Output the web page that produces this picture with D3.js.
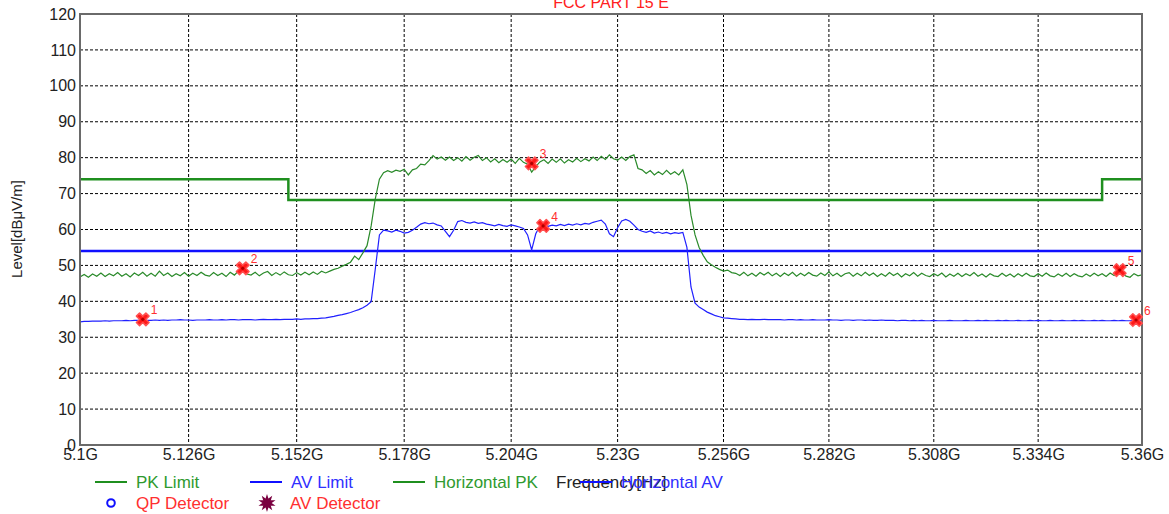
<!DOCTYPE html>
<html><head><meta charset="utf-8">
<script src="https://cdn.jsdelivr.net/npm/d3@7"></script>
<style>html,body{margin:0;padding:0;background:#fff;}svg{display:block;font-family:"Liberation Sans",Arial,sans-serif;}</style>
</head><body>
<svg id="c" width="1169" height="514"></svg>
<script>
// ---- data ----
const title = "FCC PART 15 E";
const xTickValues = [5100, 5126, 5152, 5178, 5204, 5230, 5256, 5282, 5308, 5334, 5360]; // MHz
const xTickLabels = ["5.1G","5.126G","5.152G","5.178G","5.204G","5.23G","5.256G","5.282G","5.308G","5.334G","5.36G"];
const yTickValues = [0,10,20,30,40,50,60,70,80,90,100,110,120];
const sweepStart = 5100, sweepStep = 1; // MHz
const horizontalPK = [
 46.8,47.5,46.7,47.6,47.0,47.9,46.9,47.7,47.1,48.0,
 47.0,47.7,46.8,47.9,47.2,48.1,47.0,47.8,47.0,48.4,
 47.2,47.9,46.9,47.7,47.1,48.0,47.0,47.8,47.2,48.1,
 47.3,47.0,48.0,47.2,47.8,46.9,48.1,47.3,48.5,49.0,
 47.6,47.3,48.1,47.1,47.9,48.3,47.2,48.0,47.3,48.2,
 47.4,47.2,48.0,47.3,48.1,47.4,48.2,47.5,48.4,47.9,
 48.4,48.9,49.2,49.8,50.3,50.9,52.6,51.6,53.5,55.5,
 61.0,68.5,74.0,75.8,76.4,75.9,76.5,76.2,76.8,75.2,
 76.6,77.0,78.2,78.0,79.2,80.6,79.6,80.2,79.3,80.2,
 79.2,80.0,79.0,80.3,79.3,80.1,80.6,79.2,80.0,78.8,
 79.7,78.6,79.5,78.7,79.6,78.4,79.8,78.7,78.2,76.0,
 77.5,78.8,79.4,78.4,79.6,78.7,79.7,78.5,79.4,78.8,
 79.8,78.9,79.7,79.1,80.2,79.2,80.4,79.5,80.8,79.7,
 79.3,80.2,79.2,80.3,80.8,77.0,76.6,75.6,76.4,75.2,
 76.1,75.3,76.5,75.4,76.1,75.2,76.6,72.5,64.0,58.5,
 55.0,52.8,51.0,50.2,49.5,48.9,48.4,48.7,48.0,47.8,
 47.2,48.1,47.1,47.8,47.0,48.0,47.3,48.1,47.1,47.8,
 46.9,47.9,47.2,48.1,47.0,47.8,47.1,48.0,47.3,47.0,
 47.9,47.2,48.2,47.1,47.8,46.9,47.7,48.0,47.0,47.8,
 47.1,48.1,47.2,47.9,46.9,47.7,47.0,48.0,47.2,47.8,
 46.8,47.7,47.1,48.0,47.0,47.8,47.2,46.9,47.7,47.1,
 47.9,46.8,47.6,47.0,47.8,46.9,47.7,47.1,48.0,47.0,
 47.6,46.8,47.7,47.1,46.9,47.8,47.0,47.6,46.8,47.7,
 47.0,47.8,47.1,46.9,47.7,47.0,47.9,47.1,46.8,47.6,
 47.0,47.8,46.9,47.7,47.1,46.8,47.6,47.0,47.8,47.1,
 47.7,46.9,47.9,47.2,48.2,47.8,47.0,46.7,47.7,47.1,
 47.4
];
const horizontalAV = [
 34.3,34.4,34.4,34.5,34.5,34.5,34.6,34.5,34.6,34.6,
 34.6,34.7,34.6,34.7,34.7,34.8,34.7,34.7,34.8,34.7,
 34.8,34.7,34.8,34.8,34.9,34.8,34.8,34.7,34.8,34.8,
 34.8,34.9,34.8,34.8,34.9,34.8,34.9,34.9,34.8,34.9,
 34.9,34.9,34.8,34.9,35.0,34.9,34.9,35.0,34.9,35.0,
 35.0,35.0,35.1,35.0,35.1,35.1,35.2,35.2,35.3,35.4,
 35.6,35.8,36.1,36.3,36.6,36.9,37.3,37.7,38.2,38.9,
 39.9,49.0,58.5,59.8,59.6,59.3,59.8,59.5,59.0,59.2,
 59.8,60.6,61.5,61.9,61.6,61.8,61.3,61.0,59.5,58.0,
 59.8,62.2,62.5,62.0,61.8,62.1,61.7,61.9,61.5,61.3,
 61.0,61.4,61.1,60.9,61.3,61.0,60.7,60.3,58.5,54.3,
 58.8,61.0,61.3,60.9,61.2,61.0,61.4,61.1,61.5,61.2,
 61.6,61.3,61.7,61.5,62.0,62.3,62.6,61.5,58.8,58.0,
 60.5,62.4,62.8,62.3,61.2,60.0,59.5,59.2,59.6,59.0,
 59.3,58.9,59.2,58.8,59.1,58.9,59.2,55.0,44.0,39.5,
 38.4,37.7,37.0,36.5,36.0,35.7,35.4,35.3,35.2,35.1,
 35.0,35.0,34.9,35.0,34.9,34.9,35.0,34.9,34.9,34.9,
 34.9,34.8,34.9,34.9,34.8,34.9,34.8,34.8,34.9,34.8,
 34.8,34.8,34.9,34.8,34.8,34.7,34.8,34.8,34.7,34.8,
 34.8,34.7,34.8,34.7,34.7,34.8,34.7,34.7,34.7,34.6,
 34.7,34.7,34.6,34.7,34.6,34.7,34.6,34.6,34.7,34.6,
 34.6,34.6,34.7,34.6,34.6,34.6,34.7,34.6,34.6,34.7,
 34.6,34.7,34.6,34.6,34.7,34.6,34.7,34.6,34.6,34.7,
 34.6,34.6,34.7,34.6,34.7,34.6,34.6,34.7,34.6,34.6,
 34.7,34.6,34.6,34.7,34.6,34.7,34.6,34.6,34.7,34.6,
 34.7,34.6,34.6,34.7,34.6,34.7,34.6,34.6,34.7,34.6,
 34.7
];
const pkLimit = [[5100,74],[5150,74],[5150,68.2],[5350,68.2],[5350,74],[5360,74]];
const avLimit = [[5100,54],[5360,54]];
const markers = [
 {id:"1", f:5115.0, v:35.0},
 {id:"2", f:5139.0, v:49.2},
 {id:"3", f:5209.0, v:78.4},
 {id:"4", f:5211.8, v:61.0},
 {id:"5", f:5354.4, v:48.7},
 {id:"6", f:5358.5, v:34.8}
];
const legendLines = [
 {label:"PK Limit", color:"#1f8f1f", text:"#2f9a2f", x:95, y:482},
 {label:"AV Limit", color:"#1010ff", text:"#3030ff", x:250, y:482},
 {label:"Horizontal PK", color:"#1f8f1f", text:"#2f9a2f", x:393, y:482},
 {label:"Horizontal AV", color:"#1010ff", text:"#3030ff", x:580, y:482}
];

// ---- layout ----
const L = 80, R = 1142, T = 14, B = 445;
const svg = d3.select("#c");
const x = d3.scaleLog().domain([5100, 5360]).range([L, R]);
const y = d3.scaleLinear().domain([0, 120]).range([B, T]);

// grid
const g = svg.append("g");
g.selectAll("line.vg").data(xTickValues.slice(1, -1)).join("line")
  .attr("x1", d => x(d)).attr("x2", d => x(d)).attr("y1", T).attr("y2", B)
  .attr("stroke", "#000").attr("stroke-width", 1).attr("stroke-dasharray", "3,2");
g.selectAll("line.hg").data(yTickValues.slice(1, -1)).join("line")
  .attr("x1", L).attr("x2", R).attr("y1", d => y(d)).attr("y2", d => y(d))
  .attr("stroke", "#000").attr("stroke-width", 1).attr("stroke-dasharray", "3,2");

// axes labels
const yAxis = d3.axisLeft(y).tickValues(yTickValues).tickSize(0).tickPadding(4);
svg.append("g").attr("transform", `translate(${L},0)`).call(yAxis)
  .call(s => s.select(".domain").remove())
  .selectAll("text").attr("font-size", 16).attr("fill", "#222").attr("font-family", "Liberation Sans, Arial, sans-serif");
const xAxis = d3.axisBottom(x).tickValues(xTickValues).tickFormat((d, i) => xTickLabels[i]).tickSize(0).tickPadding(4);
svg.append("g").attr("transform", `translate(0,${B})`).call(xAxis)
  .call(s => s.select(".domain").remove())
  .selectAll("text").attr("font-size", 16).attr("fill", "#222").attr("font-family", "Liberation Sans, Arial, sans-serif");

// clip
svg.append("clipPath").attr("id", "clip").append("rect").attr("x", L).attr("y", T).attr("width", R - L).attr("height", B - T);
const plot = svg.append("g").attr("clip-path", "url(#clip)");

const line = d3.line().x(d => x(d[0])).y(d => y(d[1]));
const pkData = horizontalPK.map((v, i) => [sweepStart + i * sweepStep, v]);
const avData = horizontalAV.map((v, i) => [sweepStart + i * sweepStep, v]);

plot.append("path").datum(pkLimit).attr("d", line).attr("fill", "none").attr("stroke", "#1f8f1f").attr("stroke-width", 2.5);
plot.append("path").datum(avLimit).attr("d", line).attr("fill", "none").attr("stroke", "#1010ff").attr("stroke-width", 2.5);
plot.append("path").datum(pkData).attr("d", line).attr("fill", "none").attr("stroke", "#2a8a2a").attr("stroke-width", 1.2);
plot.append("path").datum(avData).attr("d", line).attr("fill", "none").attr("stroke", "#2020ff").attr("stroke-width", 1.2);

// frame
svg.append("rect").attr("x", L).attr("y", T).attr("width", R - L).attr("height", B - T)
  .attr("fill", "none").attr("stroke", "#6a6a6a").attr("stroke-width", 2);

// markers
const cross = d3.symbol().type(d3.symbolCross).size(100);
const mg = svg.append("g");
mg.selectAll("path").data(markers).join("path")
  .attr("d", cross)
  .attr("transform", d => `translate(${x(d.f)},${y(d.v)}) rotate(45)`)
  .attr("fill", "#ff1a1a").attr("stroke", "#ff5050").attr("stroke-width", 1.5).attr("stroke-linejoin", "round");
mg.selectAll("circle").data(markers).join("circle")
  .attr("cx", d => x(d.f)).attr("cy", d => y(d.v)).attr("r", 1.6).attr("fill", "#b00000");
mg.selectAll("text").data(markers).join("text")
  .attr("x", d => x(d.f) + 8).attr("y", d => y(d.v) - 5)
  .attr("font-size", 12).attr("fill", "#ff3030").text(d => d.id);

// title
svg.append("text").attr("x", 611).attr("y", 8).attr("text-anchor", "middle")
  .attr("font-size", 16).attr("fill", "#ff2020").text(title);

// y label
svg.append("text").attr("transform", "translate(22,229) rotate(-90)").attr("text-anchor", "middle")
  .attr("font-size", 15).attr("fill", "#222").text("Level[dBμV/m]");

// x label
svg.append("text").attr("x", 556).attr("y", 488).attr("font-size", 17).attr("fill", "#222").text("Frequency[Hz]");

// legend
const lg = svg.append("g");
legendLines.forEach(d => {
  lg.append("line").attr("x1", d.x).attr("x2", d.x + 32).attr("y1", d.y).attr("y2", d.y)
    .attr("stroke", d.color).attr("stroke-width", 2);
  lg.append("text").attr("x", d.x + 41).attr("y", d.y + 6).attr("font-size", 17).attr("fill", d.text).text(d.label);
});
lg.append("circle").attr("cx", 111).attr("cy", 503).attr("r", 3.8).attr("fill", "none").attr("stroke", "#1010ff").attr("stroke-width", 2);
lg.append("text").attr("x", 136).attr("y", 509).attr("font-size", 17).attr("fill", "#ff3030").text("QP Detector");
lg.append("path").attr("d", d3.symbol().type(d3.symbolStar).size(90)).attr("transform", "translate(267,503)").attr("fill", "#7a0040");
lg.append("path").attr("d", d3.symbol().type(d3.symbolStar).size(90)).attr("transform", "translate(267,503) rotate(36)").attr("fill", "#7a0040");
lg.append("text").attr("x", 290).attr("y", 509).attr("font-size", 17).attr("fill", "#ff3030").text("AV Detector");
</script>
</body></html>
